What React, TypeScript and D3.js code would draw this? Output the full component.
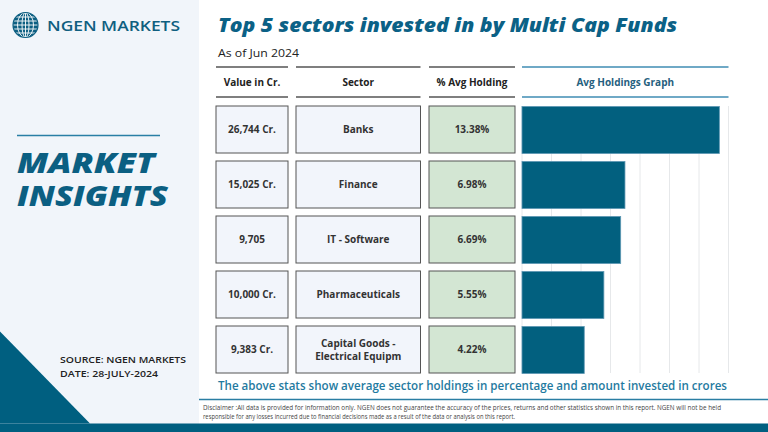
import React from "react";
import * as d3 from "d3";

const sectors = ["Banks", "Finance", "IT - Software", "Pharmaceuticals", "Capital Goods - Electrical Equipm"];
const valueLabels = ["26,744 Cr.", "15,025 Cr.", "9,705", "10,000 Cr.", "9,383 Cr."];
const avgHolding = [13.38, 6.98, 6.69, 5.55, 4.22];
const gridTicks = [0, 2, 4, 6, 8, 10, 12, 14];
const headers = ["Value in Cr.", "Sector", "% Avg Holding", "Avg Holdings Graph"];

const W = 768;
const H = 432;
const FONT = "'Open Sans', 'Noto Sans', sans-serif";
const TEAL = "#0b5f82";

function sectorLines(s: string): string[] {
  if (s === "Capital Goods - Electrical Equipm") return ["Capital Goods -", "Electrical Equipm"];
  return [s];
}

export default function App() {
  const x = d3.scaleLinear().domain([0, 14]).range([522, 728.5]);
  const y = d3.scaleBand<string>().domain(sectors).range([106, 373]).paddingInner(8 / 55).paddingOuter(0);
  const bh = y.bandwidth();

  const cols = [
    { x0: 216, x1: 288 },
    { x0: 296, x1: 420.5 },
    { x0: 429, x1: 515 },
    { x0: 522, x1: 728.5 },
  ];

  const gcx = 25.5, gcy = 25, gr = 12.5;

  return (
    <svg width={W} height={H} style={{ position: "absolute", left: 0, top: 0, display: "block" }}>
      <rect x={0} y={0} width={W} height={H} fill="#ffffff" />
      <rect x={0} y={0} width={199} height={H} fill="#f1f5fa" />

      {/* Logo */}
      <g>
        <circle cx={gcx} cy={gcy} r={gr} fill="#0d5f82" />
        {[-8, -4, 0, 4, 8].map((dy, i) => {
          const hw = Math.sqrt(Math.max(0, gr * gr - dy * dy));
          return <line key={"la" + i} x1={gcx - hw} x2={gcx + hw} y1={gcy + dy} y2={gcy + dy} stroke="#ffffff" strokeWidth={0.9} />;
        })}
        {[3.5, 8].map((rx, i) => (
          <ellipse key={"me" + i} cx={gcx} cy={gcy} rx={rx} ry={gr} fill="none" stroke="#ffffff" strokeWidth={0.9} />
        ))}
        <line x1={gcx} x2={gcx} y1={gcy - gr} y2={gcy + gr} stroke="#ffffff" strokeWidth={0.9} />
        <circle cx={gcx} cy={gcy} r={gr} fill="none" stroke="#0d5f82" strokeWidth={1.2} />
      </g>
      <text x={47} y={31} fontFamily={FONT} fontWeight={600} fontSize={15} fill="#0f5f80" textLength={133} lengthAdjust="spacingAndGlyphs">NGEN MARKETS</text>

      <line x1={17} x2={160} y1={135.5} y2={135.5} stroke="#2a7fa5" strokeWidth={1.5} />
      <text x={17} y={173} fontFamily={FONT} fontWeight={800} fontStyle="italic" fontSize={28} fill={TEAL} textLength={138} lengthAdjust="spacingAndGlyphs">MARKET</text>
      <text x={17} y={206} fontFamily={FONT} fontWeight={800} fontStyle="italic" fontSize={28} fill={TEAL} textLength={151} lengthAdjust="spacingAndGlyphs">INSIGHTS</text>

      <text x={60} y={363} fontFamily={FONT} fontWeight={600} fontSize={9} fill="#222" textLength={126} lengthAdjust="spacingAndGlyphs">SOURCE: NGEN MARKETS</text>
      <text x={60} y={377} fontFamily={FONT} fontWeight={600} fontSize={9} fill="#222" textLength={98} lengthAdjust="spacingAndGlyphs">DATE: 28-JULY-2024</text>

      <path d={`M0,331.5 L90,423.5 L0,423.5 Z`} fill="#005f80" />

      {/* Title */}
      <text x={218} y={32} fontFamily={FONT} fontWeight={800} fontStyle="italic" fontSize={19} fill="#0b6186" textLength={459} lengthAdjust="spacingAndGlyphs">Top 5 sectors invested in by Multi Cap Funds</text>
      <text x={218} y={57} fontFamily={FONT} fontWeight={400} fontSize={11} fill="#222" textLength={81} lengthAdjust="spacingAndGlyphs">As of Jun 2024</text>

      {/* Header */}
      {cols.map((c, i) => (
        <g key={"h" + i}>
          <line x1={c.x0} x2={c.x1} y1={67} y2={67} stroke={i === 3 ? "#3f8db3" : "#555"} strokeWidth={1.4} />
          <line x1={c.x0} x2={c.x1} y1={97} y2={97} stroke={i === 3 ? "#3f8db3" : "#555"} strokeWidth={1.4} />
          <text x={(c.x0 + c.x1) / 2} y={86} textAnchor="middle" fontFamily={FONT} fontWeight={700} fontSize={10} fill={i === 3 ? "#25607e" : "#222"}>{headers[i]}</text>
        </g>
      ))}

      {/* Grid */}
      {gridTicks.map((t) => (
        <line key={"g" + t} x1={x(t)} x2={x(t)} y1={106} y2={373} stroke="#e6e8ea" strokeWidth={1} />
      ))}

      {/* Rows */}
      {sectors.map((s, i) => {
        const y0 = y(s) as number;
        const cy = y0 + bh / 2;
        const lines = sectorLines(s);
        return (
          <g key={s}>
            <rect x={cols[0].x0} y={y0} width={cols[0].x1 - cols[0].x0} height={bh} fill="#f2f5fb" stroke="#555" strokeWidth={1} />
            <text x={(cols[0].x0 + cols[0].x1) / 2} y={cy} dy="0.35em" textAnchor="middle" fontFamily={FONT} fontWeight={700} fontSize={10} fill="#333">{valueLabels[i]}</text>
            <rect x={cols[1].x0} y={y0} width={cols[1].x1 - cols[1].x0} height={bh} fill="#f2f5fb" stroke="#555" strokeWidth={1} />
            {lines.map((l, j) => (
              <text key={j} x={(cols[1].x0 + cols[1].x1) / 2} y={cy + (j - (lines.length - 1) / 2) * 13} dy="0.35em" textAnchor="middle" fontFamily={FONT} fontWeight={700} fontSize={10} fill="#333">{l}</text>
            ))}
            <rect x={cols[2].x0} y={y0} width={cols[2].x1 - cols[2].x0} height={bh} fill="#d3e6d3" stroke="#555" strokeWidth={1} />
            <text x={(cols[2].x0 + cols[2].x1) / 2} y={cy} dy="0.35em" textAnchor="middle" fontFamily={FONT} fontWeight={700} fontSize={10} fill="#333">{avgHolding[i].toFixed(2) + "%"}</text>
            <rect x={x(0)} y={y0 + 0.5} width={x(avgHolding[i]) - x(0)} height={bh} fill="#02607f" stroke="#5d97b3" strokeWidth={0.8} />
          </g>
        );
      })}

      <text x={218} y={390} fontFamily={FONT} fontWeight={600} fontSize={12.5} fill="#1f7aa0" textLength={509} lengthAdjust="spacingAndGlyphs">The above stats show average sector holdings in percentage and amount invested in crores</text>

      <line x1={199} x2={W} y1={399.5} y2={399.5} stroke="#2a7ea3" strokeWidth={1.5} />
      <text x={203} y={410} fontFamily={FONT} fontSize={6.5} fill="#444" textLength={518} lengthAdjust="spacingAndGlyphs">Disclaimer :All data is provided for information only. NGEN does not guarantee the accuracy of the prices, returns and other statistics shown in this report. NGEN will not be held</text>
      <text x={203} y={419} fontFamily={FONT} fontSize={6.5} fill="#444" textLength={312} lengthAdjust="spacingAndGlyphs">responsible for any losses incurred due to financial decisions made as a result of the data or analysis on this report.</text>

      <rect x={0} y={423.5} width={W} height={H - 423.5} fill="#005f80" />
    </svg>
  );
}
